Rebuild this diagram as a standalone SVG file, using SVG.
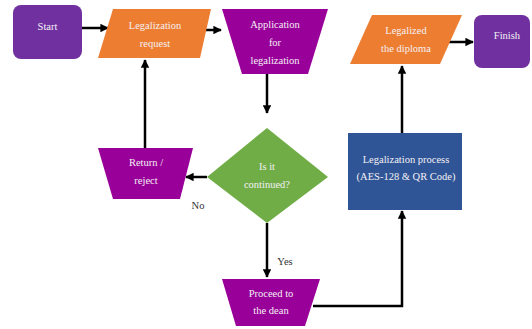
<svg xmlns="http://www.w3.org/2000/svg" width="532" height="329" viewBox="0 0 532 329">
<defs>
<marker id="ah" viewBox="0 0 10 10" refX="9" refY="5" markerWidth="3.4" markerHeight="3.4" orient="auto" markerUnits="strokeWidth">
<path d="M0,0 L10,5 L0,10 z" fill="#000"/>
</marker>
<style>
.t{font-family:"Liberation Serif","Times New Roman",serif;font-size:10.5px;fill:#f4f0f4;text-anchor:middle}
.l{font-family:"Liberation Serif","Times New Roman",serif;font-size:10.5px;fill:#333;text-anchor:middle}
.c{fill:none;stroke:#000;stroke-width:2.5;marker-end:url(#ah)}
.purple{fill:#7030A0}
.mag{fill:#990099}
.orange{fill:#ED7D31}
.green{fill:#70AD47}
.blue{fill:#2F5597}
</style>
</defs>
<rect width="532" height="329" fill="#fff"/>
<g id="connectors">
<path class="c" d="M82,28 L108,28"/>
<path class="c" d="M200,30 L221,30"/>
<path class="c" d="M267,74 L267,113"/>
<path class="c" d="M207,177 L186,177"/>
<path class="c" d="M145,148 L145,60"/>
<path class="c" d="M267,223 L267,277"/>
<path class="c" d="M313,306 L402,306 L402,211"/>
<path class="c" d="M402,133 L402,66"/>
<path class="c" d="M449,42 L473,42"/>
</g>
<g id="start">
<rect class="purple" x="13" y="5" width="69" height="54" rx="8"/>
<text class="t" x="47.5" y="30">Start</text>
</g>
<g id="legalization-request">
<polygon class="orange" points="113,9 211,9 200,58 98,58"/>
<text class="t" x="155" y="28.5">Legalization</text>
<text class="t" x="155" y="46.5">request</text>
</g>
<g id="application">
<polygon class="mag" points="222,9 328,9 308,74 242,74"/>
<text class="t" x="275" y="28">Application</text>
<text class="t" x="275" y="46">for</text>
<text class="t" x="275" y="64">legalization</text>
</g>
<g id="decision">
<polygon class="green" points="267,128 328,177 267,223 207,177"/>
<text class="t" x="267" y="170">Is it</text>
<text class="t" x="267" y="188">continued?</text>
</g>
<g id="return-reject">
<polygon class="mag" points="98,148 193,148 180,199 113,199"/>
<text class="t" x="146" y="166">Return /</text>
<text class="t" x="146" y="184">reject</text>
</g>
<text class="l" x="198" y="209">No</text>
<text class="l" x="285" y="265">Yes</text>
<g id="proceed">
<polygon class="mag" points="222,279 320,279 305,326 236,326"/>
<text class="t" x="271" y="297">Proceed to</text>
<text class="t" x="271" y="314">the dean</text>
</g>
<g id="legalization-process">
<rect class="blue" x="348" y="133" width="114" height="77"/>
<text class="t" x="406" y="163">Legalization process</text>
<text class="t" x="406" y="180">(AES-128 &amp; QR Code)</text>
</g>
<g id="legalized">
<polygon class="orange" points="372,15 462,15 440,64 350,64"/>
<text class="t" x="406" y="33.5">Legalized</text>
<text class="t" x="406" y="51.5">the diploma</text>
</g>
<g id="finish">
<rect class="purple" x="474" y="15" width="56" height="53" rx="8"/>
<text class="t" x="507" y="39">Finish</text>
</g>
</svg>
